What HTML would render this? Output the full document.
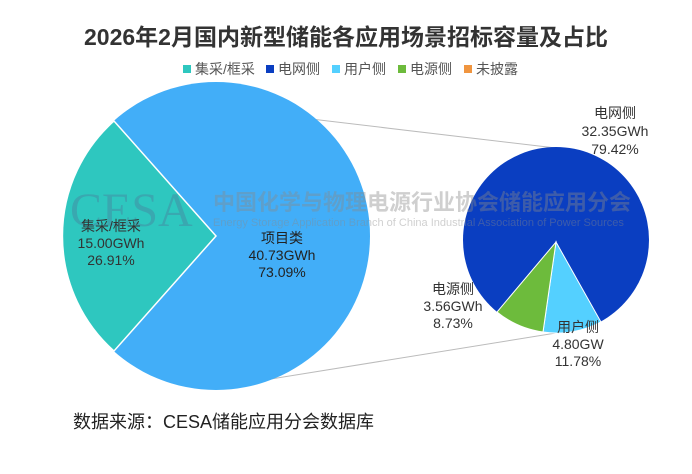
<!DOCTYPE html>
<html><head><meta charset="utf-8"><style>
body{margin:0;background:#fff;width:692px;height:469px;overflow:hidden}
text{font-family:"Liberation Sans","Noto Sans CJK SC",sans-serif}
</style></head><body>
<svg width="692" height="469" viewBox="0 0 692 469">
<rect width="692" height="469" fill="#fff"/>
<text x="346" y="45" text-anchor="middle" font-size="23" font-weight="bold" fill="#333">2026年2月国内新型储能各应用场景招标容量及占比</text>
<g font-size="14" fill="#555">
<rect x="183" y="65" width="8" height="8" fill="#2ec7bf"/><text x="195" y="74">集采/框采</text>
<rect x="266" y="65" width="8" height="8" fill="#0a3ec1"/><text x="278" y="74">电网侧</text>
<rect x="332" y="65" width="8" height="8" fill="#54d0ff"/><text x="344" y="74">用户侧</text>
<rect x="398" y="65" width="8" height="8" fill="#6dbb3c"/><text x="410" y="74">电源侧</text>
<rect x="464" y="65" width="8" height="8" fill="#f0953f"/><text x="476" y="74">未披露</text>
</g>
<line x1="150" y1="100" x2="556" y2="148" stroke="#bbb" stroke-width="1"/>
<line x1="215" y1="388" x2="556" y2="333" stroke="#bbb" stroke-width="1"/>
<circle cx="216" cy="236" r="154" fill="#42aef8"/>
<path d="M216,236 L114,121 A154,154 0 0 0 114,351 Z" fill="#2ec7bf" stroke="#fff" stroke-width="1.5"/>
<circle cx="556" cy="240" r="93" fill="#0a3ec1"/>
<path d="M556,242 L601,322 A93,93 0 0 1 543,332 Z" fill="#54d0ff" stroke="#fff" stroke-width="1"/>
<path d="M556,242 L543,332 A93,93 0 0 1 497,312 Z" fill="#6dbb3c" stroke="#fff" stroke-width="1"/>
<g opacity="0.4">
<text x="70" y="226" style="font-family:'Liberation Serif',serif" font-size="48" fill="#4a7a9a">CESA</text>
<text x="213" y="210" font-size="22" fill="#8a8a8a" font-weight="bold">中国化学与物理电源行业协会储能应用分会</text>
<text x="213" y="226" font-size="11" fill="#8a8a8a">Energy Storage Application Branch of China Industrial Association of Power Sources</text>
</g>
<g font-size="14" fill="#333" text-anchor="middle">
<text x="111" y="231">集采/框采</text><text x="111" y="248">15.00GWh</text><text x="111" y="265">26.91%</text>
<text x="282" y="243" fill="#222">项目类</text><text x="282" y="260" fill="#222">40.73GWh</text><text x="282" y="277" fill="#222">73.09%</text>
<text x="615" y="118">电网侧</text><text x="615" y="136">32.35GWh</text><text x="615" y="154">79.42%</text>
<text x="453" y="294">电源侧</text><text x="453" y="311">3.56GWh</text><text x="453" y="328">8.73%</text>
<text x="578" y="332">用户侧</text><text x="578" y="349">4.80GW</text><text x="578" y="366">11.78%</text>
</g>
<text x="73" y="428" font-size="18" fill="#222">数据来源：CESA储能应用分会数据库</text>
</svg>
</body></html>
